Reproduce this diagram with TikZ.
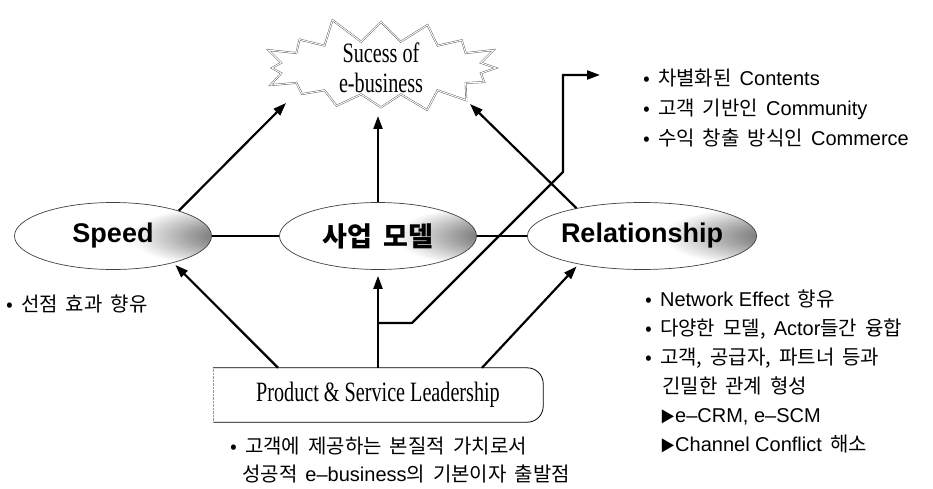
\documentclass[tikz,border=0pt]{standalone}
\usepackage{fontspec}
\setmainfont{Liberation Serif}
\newfontfamily\krfont[WordSpace=1.8]{Noto Sans CJK KR}
\newfontfamily\latfont{Liberation Sans}
\newfontfamily\condserif[FakeStretch=0.72]{Liberation Serif}
\newcommand\la[1]{{\latfont #1}}
\newcommand\tri{{\fontsize{15}{15}\selectfont▶}}
\usetikzlibrary{shapes.geometric,shapes.symbols,arrows.meta,calc}
\pgfdeclareradialshading{glow}{\pgfpoint{32bp}{0bp}}{color(0bp)=(black!65); color(9bp)=(black!40); color(22bp)=(white); color(120bp)=(white)}
\tikzset{
	oval/.style={ellipse, draw=black!75, line width=0.7pt, shade, shading=glow, minimum width=197pt, minimum height=67pt, inner sep=0pt, font=\fontsize{27}{30}\selectfont},
	arr/.style={line width=2.2pt, -{Triangle[length=13pt,width=9pt]}},
	link/.style={line width=2pt},
	note/.style={font=\krfont\fontsize{20}{29}\selectfont, anchor=base west, inner sep=0pt},
}
\begin{document}
\begin{tikzpicture}[x=1pt,y=-1pt]
		\useasboundingbox (0,0) rectangle (933,489);
		\node[starburst, starburst points=16, starburst point height=26pt, random starburst=11, draw=black!70, double, double distance=1pt, fill=white, inner xsep=30pt, inner ysep=-6pt, align=center, font=\condserif\fontsize{28}{30}\selectfont] (star) at (381,68) {Sucess of\\e-business};
		\foreach \nm/\x/\txt in {speed/113/{\latfont\bfseries Speed},model/378/{\krfont\bfseries 사업 모델},rel/642/{\latfont\bfseries Relationship}}{
		\node[oval] (\nm) at (\x,236) {\txt};
		};
		\node[minimum width=330pt, minimum height=54pt, inner sep=0pt, font=\condserif\fontsize{28}{30}\selectfont] (ps) at (378,395) {Product \& Service Leadership};
		\draw[line width=0.8pt, rounded corners=16pt] (ps.north west) -- (ps.north east) -- (ps.south east) -- (ps.south west);
		\draw[densely dotted, black!40] (ps.south west) -- (ps.north west);

		\coordinate (hitL) at (286,103);
		\coordinate (hitM) at (378,116);
		\coordinate (hitR) at (470,104);
		\draw (speed.21) edge[arr] (hitL);
		\draw (model.north) edge[arr] (hitM);
		\draw (rel.157) edge[arr] (hitR);
		\draw (speed.east) edge[link] (model.west);
		\draw (model.east) edge[link] (rel.west);

		\coordinate (psL) at ($(ps.north)+(-100,0)$);
		\coordinate (psR) at ($(ps.north)+(104,0)$);
		\draw (psL) edge[arr, shorten >=3pt] (speed.-24);
		\draw (ps.north) edge[arr, shorten >=6pt] (model.south);
		\draw (psR) edge[arr, shorten >=3pt] (rel.-156);

		\coordinate (fork) at (378,323);
		\coordinate (k1) at (412,323);
		\coordinate (k2) at (563,172);
		\coordinate (k3) at (563,75);
		\coordinate (tipC) at (600,75);
		\draw[arr] (fork) -- (k1) -- (k2) -- (k3) -- (tipC);

		\node[note] (first) at (6,311) {• 선점 효과 향유};
		\foreach \i/\t in {0/{• 차별화된 \la{Contents}},1/{• 고객 기반인 \la{Community}},2/{• 수익 창출 방식인 \la{Commerce}}}{
		\node[note] (c\i) at (643,86+30*\i) {\t};
		};
		\foreach \i/\x/\t in {0/645/{• \la{Network Effect} 향유},1/645/{• 다양한 모델, \la{Actor}들간 융합},2/645/{• 고객, 공급자, 파트너 등과},3/662/{긴밀한 관계 형성},4/660/{\tri\la{e–CRM, e–SCM}},5/660/{\tri\la{Channel Conflict} 해소}}{
		\node[note] (r\i) at (\x,306+29*\i) {\t};
		};
		\node[note] (b0) at (230,453) {• 고객에 제공하는 본질적 가치로서};
		\node[note] (b1) at (242,481) {성공적 \la{e–business}의 기본이자 출발점};
	\end{tikzpicture}
\end{document}
